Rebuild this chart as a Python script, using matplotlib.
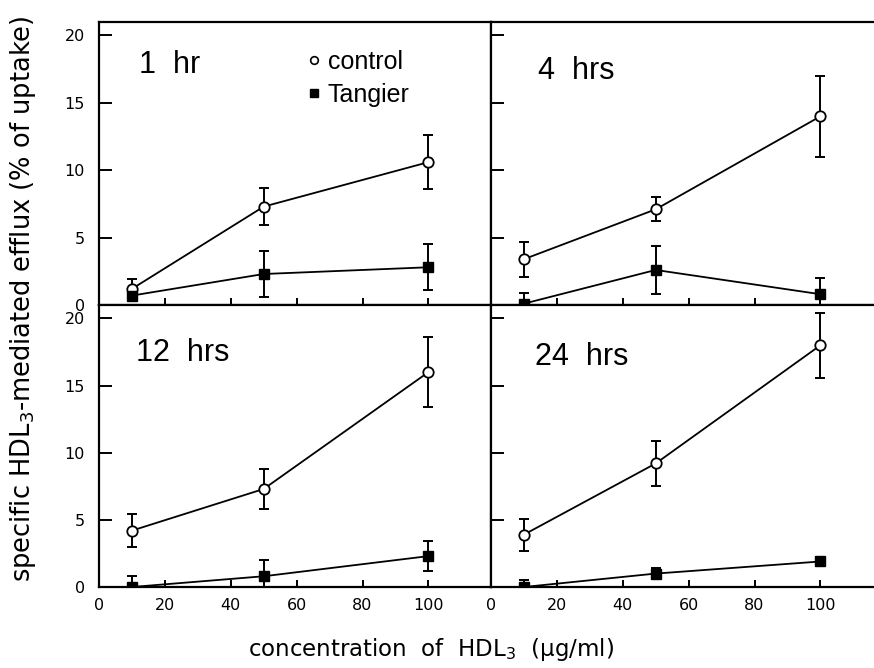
import matplotlib
matplotlib.use("Agg")
import matplotlib.pyplot as plt
from matplotlib import font_manager
from matplotlib.lines import Line2D

# HDL3 concentrations (ug/ml)
conc = [10, 50, 100]

panels = ["1  hr", "4  hrs", "12  hrs", "24  hrs"]

control_mean = [
    [1.2, 7.3, 10.6],
    [3.4, 7.1, 14.0],
    [4.2, 7.3, 16.0],
    [3.9, 9.2, 18.0],
]
control_err = [
    [0.7, 1.4, 2.0],
    [1.3, 0.9, 3.0],
    [1.2, 1.5, 2.6],
    [1.2, 1.7, 2.4],
]
tangier_mean = [
    [0.7, 2.3, 2.8],
    [0.1, 2.6, 0.8],
    [0.0, 0.8, 2.3],
    [0.0, 1.0, 1.9],
]
tangier_err = [
    [0.4, 1.7, 1.7],
    [0.8, 1.8, 1.2],
    [0.8, 1.2, 1.1],
    [0.5, 0.4, 0.35],
]

x_ticks = [0, 20, 40, 60, 80, 100]
y_ticks = [0, 5, 10, 15, 20]


def pick_font(names):
    have = {f.name for f in font_manager.fontManager.ttflist}
    for n in names:
        if n in have:
            return n
    return "DejaVu Sans"


narrow = pick_font(["Liberation Sans Narrow", "Liberation Sans"])

W, H = 874, 668
fig = plt.figure(figsize=(W / 100, H / 100), dpi=100)


def px_box(left, top, right, bottom):
    return [left / W, 1 - bottom / H, (right - left) / W, (bottom - top) / H]


boxes = [
    px_box(99, 22, 491, 305),
    px_box(491, 22, 883, 305),
    px_box(99, 305, 491, 587),
    px_box(491, 305, 883, 587),
]
label_pos = [(12, 17.8), (14.3, 17.4), (11.3, 17.4), (13.4, 17.1)]

for i, box in enumerate(boxes):
    ax = fig.add_axes(box)
    ax.set_xlim(0, 119)
    ax.set_ylim(0, 21)
    for side in ["left", "bottom", "top", "right"]:
        ax.spines[side].set_linewidth(1.6)
    ax.set_xticks(x_ticks)
    ax.set_yticks(y_ticks)
    ax.tick_params(axis="x", direction="in", length=5, width=1.4, top=False)
    ax.tick_params(axis="y", direction="in", length=9, width=1.4, right=False)
    ax.tick_params(labelsize=11.5)
    if i in (0, 2):
        ax.set_yticklabels([str(v) for v in y_ticks])
        ax.tick_params(axis="y", pad=10)
    else:
        ax.set_yticklabels([])
    if i in (2, 3):
        ax.tick_params(axis="x", pad=8)
    else:
        ax.set_xticklabels([])

    ax.errorbar(conc, control_mean[i], yerr=control_err[i], fmt="none",
                ecolor="black", elinewidth=1.4, capsize=3.8, capthick=1.4)
    ax.errorbar(conc, tangier_mean[i], yerr=tangier_err[i], fmt="none",
                ecolor="black", elinewidth=1.4, capsize=3.8, capthick=1.4)
    ax.plot(conc, control_mean[i], "-o", color="black", lw=1.3,
            markersize=7.5, markerfacecolor="white", markeredgewidth=1.3, zorder=4)
    ax.plot(conc, tangier_mean[i], "-s", color="black", lw=1.3,
            markersize=6.5, markerfacecolor="black", zorder=4)

    lx, ly = label_pos[i]
    ax.text(lx, ly, panels[i], fontsize=22, family=narrow, va="center", ha="left")

    if i == 0:
        handles = [
            Line2D([], [], marker="o", ls="none", color="black", markersize=5.5,
                   markerfacecolor="white", markeredgewidth=1.2),
            Line2D([], [], marker="s", ls="none", color="black", markersize=5.5),
        ]
        ax.legend(handles, ["control", "Tangier"], loc="upper left",
                  bbox_to_anchor=(0.497, 0.945), frameon=False, borderpad=0,
                  handlelength=0.6, handletextpad=0.25, labelspacing=0.35,
                  prop={"family": narrow, "size": 18})

fig.text(23 / W, 0.553, "specific HDL$_3$-mediated efflux (% of uptake)",
         rotation=90, ha="center", va="center", fontsize=18.5)
fig.text(431 / W, 0.028, "concentration  of  HDL$_3$  (μg/ml)",
         ha="center", va="center", fontsize=16.5)

fig.savefig("out.png", dpi=100)
